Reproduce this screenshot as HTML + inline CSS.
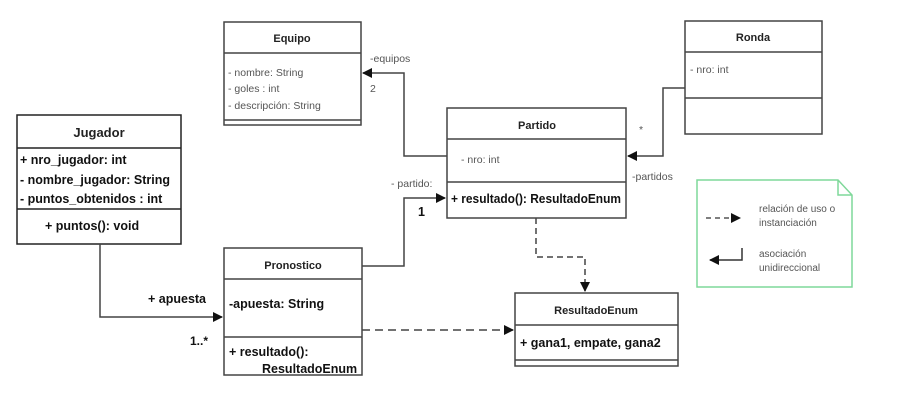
<!DOCTYPE html>
<html><head><meta charset="utf-8"><style>
body{margin:0;background:#fff;}
svg text{font-family:"Liberation Sans",sans-serif;}
</style></head><body>
<svg width="898" height="412" xmlns="http://www.w3.org/2000/svg">
<defs>
<marker id="a" markerWidth="10" markerHeight="10" refX="9" refY="5" orient="auto" markerUnits="userSpaceOnUse"><path d="M0,0 L10,5 L0,10 Z" fill="#111"/></marker>
</defs>
<g fill="none" stroke="#444" stroke-width="1.5">
<rect x="224" y="22" width="137" height="103"/><line x1="224" y1="53" x2="361" y2="53"/><line x1="224" y1="120" x2="361" y2="120"/>
<rect x="17" y="115" width="164" height="129" stroke="#222"/><line x1="17" y1="148" x2="181" y2="148" stroke="#222"/><line x1="17" y1="209" x2="181" y2="209" stroke="#222"/>
<rect x="685" y="21" width="137" height="113"/><line x1="685" y1="52" x2="822" y2="52"/><line x1="685" y1="98" x2="822" y2="98"/>
<rect x="447" y="108" width="179" height="110"/><line x1="447" y1="139" x2="626" y2="139"/><line x1="447" y1="182" x2="626" y2="182"/>
<rect x="224" y="248" width="138" height="127"/><line x1="224" y1="279" x2="362" y2="279"/><line x1="224" y1="337" x2="362" y2="337"/>
<rect x="515" y="293" width="163" height="73"/><line x1="515" y1="325" x2="678" y2="325"/><line x1="515" y1="360" x2="678" y2="360"/>
</g>
<g fill="none" stroke="#444" stroke-width="1.5">
<polyline points="447,156 404,156 404,73 363,73" marker-end="url(#a)"/>
<polyline points="685,88 663,88 663,156 628,156" marker-end="url(#a)"/>
<polyline points="362,266 404,266 404,198 445,198" marker-end="url(#a)"/>
<polyline points="100,244 100,317 222,317" marker-end="url(#a)"/>
<polyline points="536,218 536,257 585,257 585,291" stroke-dasharray="6,4" marker-end="url(#a)"/>
<polyline points="362,330 513,330" stroke-dasharray="8,5" marker-end="url(#a)"/>
</g>
<path d="M697,180 L838,180 L852,195 L852,287 L697,287 Z M838,180 L838,195 L852,195" fill="none" stroke="#7fd89a" stroke-width="1.5"/>
<line x1="706" y1="218" x2="740" y2="218" stroke="#555" stroke-width="1.5" stroke-dasharray="5,4" marker-end="url(#a)"/>
<polyline points="742,248 742,260 710,260" fill="none" stroke="#333" stroke-width="1.5" marker-end="url(#a)"/>
<g font-size="10" fill="#555">
<text x="759" y="212">relación de uso o</text><text x="759" y="226">instanciación</text>
<text x="759" y="257">asociación</text><text x="759" y="271">unidireccional</text>
</g>
<g font-size="11" fill="#222" font-weight="bold" text-anchor="middle">
<text x="292" y="42">Equipo</text>
<text x="753" y="41">Ronda</text>
<text x="537" y="129">Partido</text>
<text x="293" y="269">Pronostico</text>
<text x="596" y="314">ResultadoEnum</text>
<text x="99" y="137" font-size="13">Jugador</text>
</g>
<g font-size="10.5" fill="#555">
<text x="228" y="76">- nombre: String</text>
<text x="228" y="92">- goles : int</text>
<text x="228" y="109">- descripción: String</text>
<text x="690" y="73">- nro: int</text>
<text x="461" y="163">- nro: int</text>
<text x="370" y="62">-equipos</text>
<text x="370" y="92">2</text>
<text x="639" y="133">*</text>
<text x="632" y="180">-partidos</text>
<text x="391" y="187">- partido:</text>
</g>
<g font-size="12.5" fill="#111" font-weight="bold">
<text x="20" y="164">+ nro_jugador: int</text>
<text x="20" y="184">- nombre_jugador: String</text>
<text x="20" y="203">- puntos_obtenidos : int</text>
<text x="45" y="230">+ puntos(): void</text>
<text x="451" y="203" textLength="170" lengthAdjust="spacingAndGlyphs">+ resultado(): ResultadoEnum</text>
<text x="229" y="308">-apuesta: String</text>
<text x="229" y="356">+ resultado():</text>
<text x="262" y="373">ResultadoEnum</text>
<text x="520" y="347">+ gana1, empate, gana2</text>
<text x="148" y="303">+ apuesta</text>
<text x="190" y="345" font-size="12">1..*</text>
<text x="418" y="216">1</text>
</g>
</svg>
</body></html>
